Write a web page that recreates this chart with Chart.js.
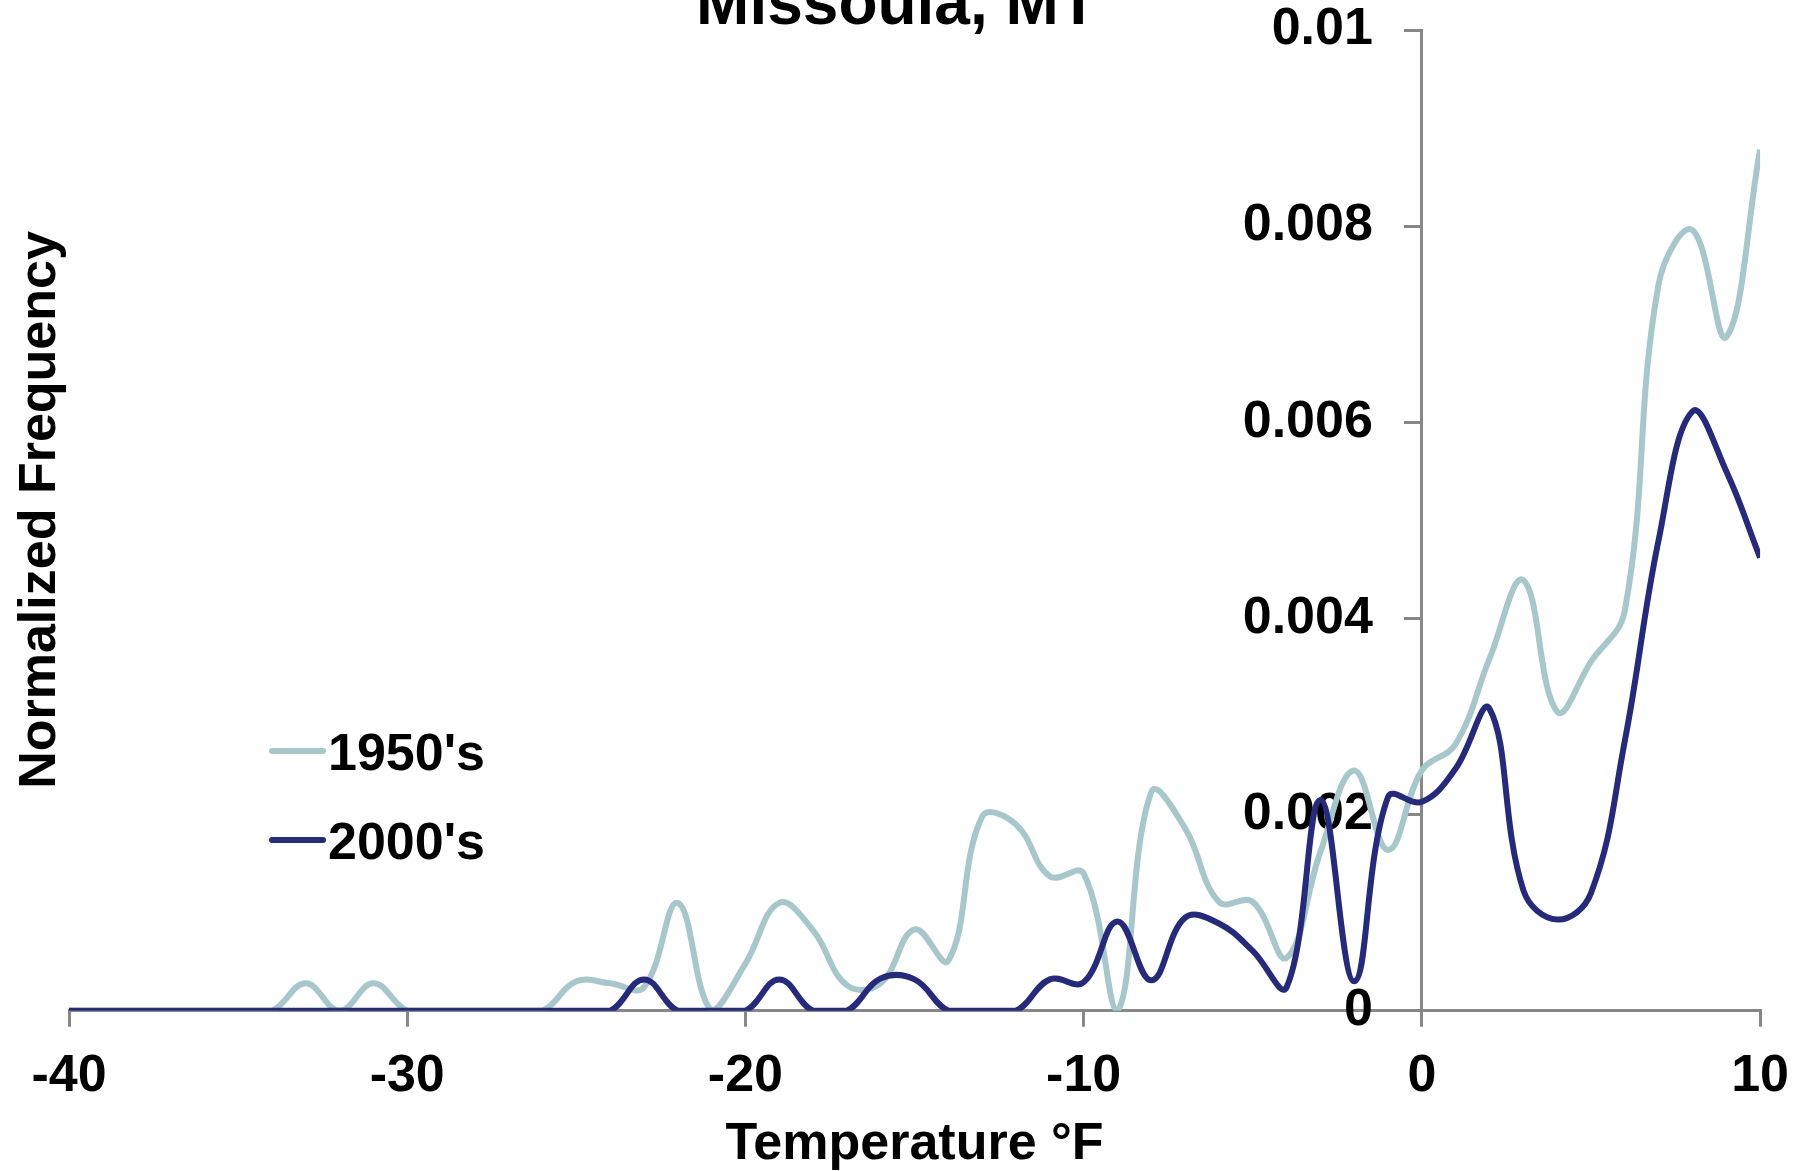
<!DOCTYPE html>
<html>
<head>
<meta charset="utf-8">
<script src="https://cdn.jsdelivr.net/npm/chart.js@4"></script>
<style>
body{margin:0;background:#fff}
#wrap{width:1797px;height:1171px}
</style>
</head>
<body>
<div id="wrap"><canvas id="myChart"></canvas></div>
<script>
var temps=[-40,-39,-38,-37,-36,-35,-34,-33,-32,-31,-30,-29,-28,-27,-26,-25,-24,-23,-22,-21,-20,-19,-18,-17,-16,-15,-14,-13,-12,-11,-10,-9,-8,-7,-6,-5,-4,-3,-2,-1,0,1,2,3,4,5,6,7,8,9,10]

var freq1950s=[0,0,0,0,0,0,0,0.00028,0,0.00028,
    0,0,0,0,0,0.0003,0.00028,0.00024,0.0011,0,
    0.00048,0.0011,0.00082,0.00026,0.00028,0.00083,0.00051,0.00198,0.0019,0.00137,
    0.0014,0,0.00223,0.00186,0.00111,0.00111,0.00054,0.00162,0.00245,0.00164,
    0.00245,0.00272,0.00359,0.00439,0.00305,0.00356,0.00408,0.00741,0.00796,0.00687,
    0.00878]

var freq2000s=[0,0,0,0,0,0,0,0,0,0,
    0,0,0,0,0,0,0,0.00032,0,0,
    0,0.00032,0,0,0.00033,0.00032,0,0,0,0.00032,
    0.00029,0.00091,0.00031,0.00095,0.00089,0.00061,0.00024,0.00215,0.0003,0.00218,
    0.00213,0.00247,0.00308,0.00123,0.00093,0.0012,0.00275,0.0048,0.00611,0.0055,
    0.00462]

var seriesNames=["1950's","2000's"]
var xTicks=[-40,-30,-20,-10,0,10]
var yTicks=[0,0.002,0.004,0.006,0.008,0.01]

var chartTitle='Missoula, MT'
var xTitle='Temperature °F'
var yTitle='Normalized Frequency'

var fontName="'Liberation Sans', Arial, sans-serif"
var axisGray='#878787'

function pts(vals){
    return temps.map(function(t,i){return {x:t,y:vals[i]}})
}

Chart.defaults.font.family=fontName
Chart.defaults.font.weight='bold'
Chart.defaults.font.size=52
Chart.defaults.color='#000'

// y axis sits at x=0; chart.js puts its labels right on the line, so push them left
var yLabelShift={
    id:'yLabelShift',
    beforeDraw:function(c){
        var s=c.scales.y
        s._labelItems=s._computeLabelItems(c.chartArea)
        s._labelItems.forEach(function(it){it.options.translation[0]-=49})
    }
}

// title, rotated y title and legend
var extras={
    id:'extras',
    afterDraw:function(c){
        var ctx=c.ctx
        ctx.save()
        ctx.fillStyle='#000'
        ctx.font='bold 64px '+fontName
        ctx.textAlign='center'
        ctx.textBaseline='alphabetic'
        ctx.fillText(chartTitle,897,24)

        ctx.font='bold 52px '+fontName
        c.data.datasets.forEach(function(ds,i){
            var y=751+i*89
            ctx.strokeStyle=ds.borderColor
            ctx.lineWidth=6
            ctx.lineCap='round'
            ctx.beginPath()
            ctx.moveTo(272,y)
            ctx.lineTo(323,y)
            ctx.stroke()
            ctx.textAlign='left'
            ctx.fillText(ds.label,328,y+19)
        })

        ctx.translate(55,510)
        ctx.rotate(-Math.PI/2)
        ctx.textAlign='center'
        ctx.fillText(yTitle,0,0)
        ctx.restore()
    }
}

chart=new Chart("myChart",{
    type:'line',
    data:{
        datasets:[{
            label:seriesNames[0],
            data:pts(freq1950s),
            borderColor:'#A6C8CA',
            borderWidth:6,
            pointRadius:0,
            tension:0.4,
            order:1
        },{
            label:seriesNames[1],
            data:pts(freq2000s),
            borderColor:'#262A7E',
            borderWidth:6,
            pointRadius:0,
            tension:0.4,
            order:0
        }]
    },
    options:{
        responsive:true,
        maintainAspectRatio:false,
        animation:false,
        layout:{autoPadding:false,padding:{left:69,right:25,top:30,bottom:0}},
        plugins:{legend:{display:false},tooltip:{enabled:false}},
        scales:{
            x:{
                type:'linear',
                position:'bottom',
                min:-40,max:10,
                afterBuildTicks:function(s){s.ticks=xTicks.map(function(v){return {value:v}})},
                grid:{drawOnChartArea:false,color:axisGray,lineWidth:3,tickLength:16},
                border:{color:axisGray,width:3},
                ticks:{padding:8,maxRotation:0,font:{lineHeight:1.62}},
                title:{display:true,text:xTitle,font:{lineHeight:1},padding:{top:-8,bottom:0}}
            },
            y:{
                type:'linear',
                position:{x:0},
                z:1,
                min:0,max:0.01,
                afterBuildTicks:function(s){s.ticks=yTicks.map(function(v){return {value:v}})},
                grid:{drawOnChartArea:false,color:axisGray,lineWidth:3,tickLength:16},
                border:{color:axisGray,width:3},
                ticks:{font:{lineHeight:1},callback:function(v){return String(+v.toFixed(3))}}
            }
        }
    },
    plugins:[yLabelShift,extras]
})
</script>
</body>
</html>
